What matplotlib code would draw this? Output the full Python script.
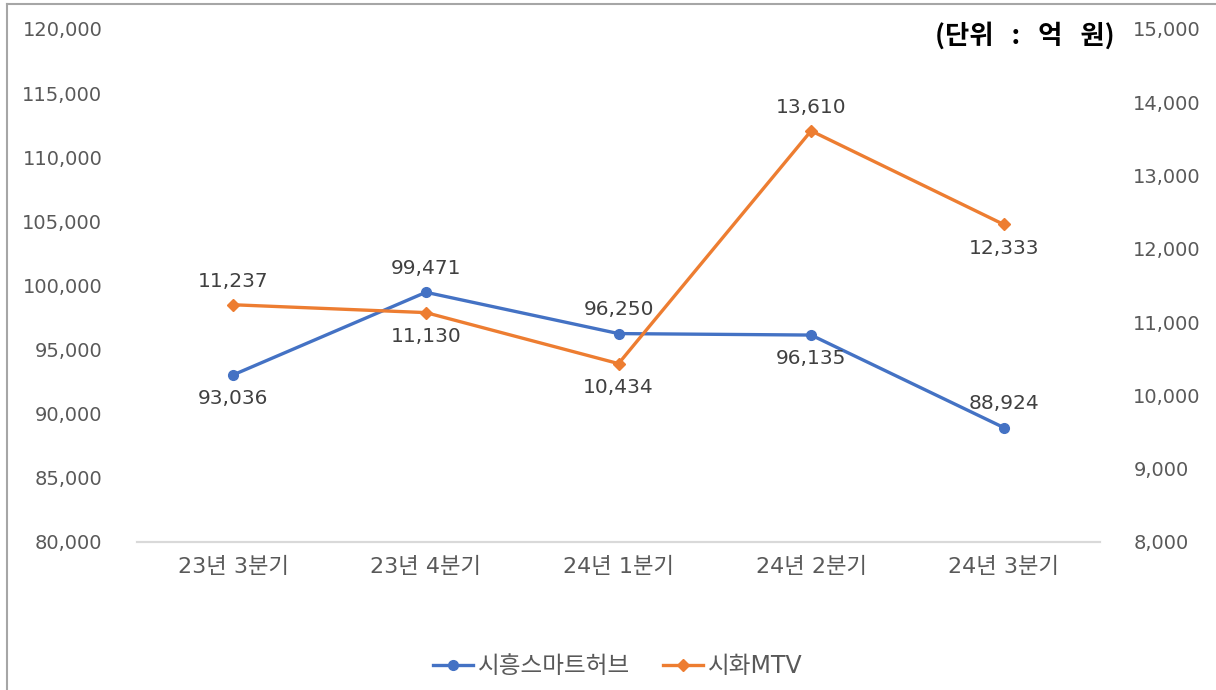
import matplotlib.pyplot as plt
from matplotlib.lines import Line2D

plt.rcParams['font.family'] = ['DejaVu Sans', 'Noto Sans CJK KR']

# quarterly values (unit: 억 원)
quarters = ["23년 3분기", "23년 4분기", "24년 1분기", "24년 2분기", "24년 3분기"]
siheung = [93036, 99471, 96250, 96135, 88924]
sihwa = [11237, 11130, 10434, 13610, 12333]
left_ticks = [80000, 85000, 90000, 95000, 100000, 105000, 110000, 115000, 120000]
right_ticks = [8000, 9000, 10000, 11000, 12000, 13000, 14000, 15000]

# label placement: +1 above point, -1 below
siheung_side = [-1, 1, 1, -1, 1]
sihwa_side = [1, -1, -1, 1, -1]

blue = "#4472C4"
orange = "#ED7D31"
tick_gray = "#595959"
label_gray = "#404040"

fig = plt.figure(figsize=(12.16, 6.9), dpi=100)
ax1 = fig.add_axes([0.1127, 0.2145, 0.7919, 0.7435])
ax2 = ax1.twinx()

x = list(range(len(quarters)))
ax1.plot(x, siheung, color=blue, lw=2.4, marker="o", ms=7, zorder=3)
ax2.plot(x, sihwa, color=orange, lw=2.4, marker="D", ms=6.5, zorder=3)

for i, v in enumerate(siheung):
    ax1.annotate(f"{v:,}", (i, v), xytext=(0, 17 * siheung_side[i]), textcoords="offset points",
                 ha="center", va="center", fontsize=14.5, color=label_gray)
for i, v in enumerate(sihwa):
    ax2.annotate(f"{v:,}", (i, v), xytext=(0, 17 * sihwa_side[i]), textcoords="offset points",
                 ha="center", va="center", fontsize=14.5, color=label_gray)

ax1.set_xlim(-0.5, len(quarters) - 0.5)
ax1.set_ylim(80000, 120000)
ax2.set_ylim(8000, 15000)
ax1.set_yticks(left_ticks)
ax1.set_yticklabels([f"{t:,}" for t in left_ticks])
ax2.set_yticks(right_ticks)
ax2.set_yticklabels([f"{t:,}" for t in right_ticks])
ax1.set_xticks(x)
ax1.set_xticklabels(quarters)

ax1.tick_params(axis="y", length=0, pad=25, labelsize=14, labelcolor=tick_gray)
ax2.tick_params(axis="y", length=0, pad=24, labelsize=14, labelcolor=tick_gray)
ax1.tick_params(axis="x", length=0, pad=11, labelsize=16, labelcolor=tick_gray)

for a in (ax1, ax2):
    for s in ("top", "left", "right"):
        a.spines[s].set_visible(False)
    a.spines["bottom"].set_color("#D9D9D9")
    a.spines["bottom"].set_linewidth(1.5)

fig.text(0.917, 0.948, "(단위   :   억   원)", ha="right", va="center", fontsize=19,
         fontweight="bold", color="black", family=["Noto Sans CJK KR", "DejaVu Sans"])

handles = [Line2D([], [], color=blue, lw=2.4, marker="o", ms=7),
           Line2D([], [], color=orange, lw=2.4, marker="D", ms=6.5)]
fig.legend(handles, ["시흥스마트허브", "시화MTV"], loc="center", bbox_to_anchor=(0.508, 0.035),
           ncol=2, frameon=False, fontsize=17, labelcolor=tick_gray, handlelength=1.7,
           handletextpad=0.2, columnspacing=1.4)

# frame edges of the original screenshot
fig.add_artist(Line2D([0.006, 0.006], [0, 0.994], transform=fig.transFigure, color="#A6A6A6", lw=1.5))
fig.add_artist(Line2D([0.006, 1], [0.994, 0.994], transform=fig.transFigure, color="#A6A6A6", lw=1.5))

fig.savefig("out.png", dpi=100)
